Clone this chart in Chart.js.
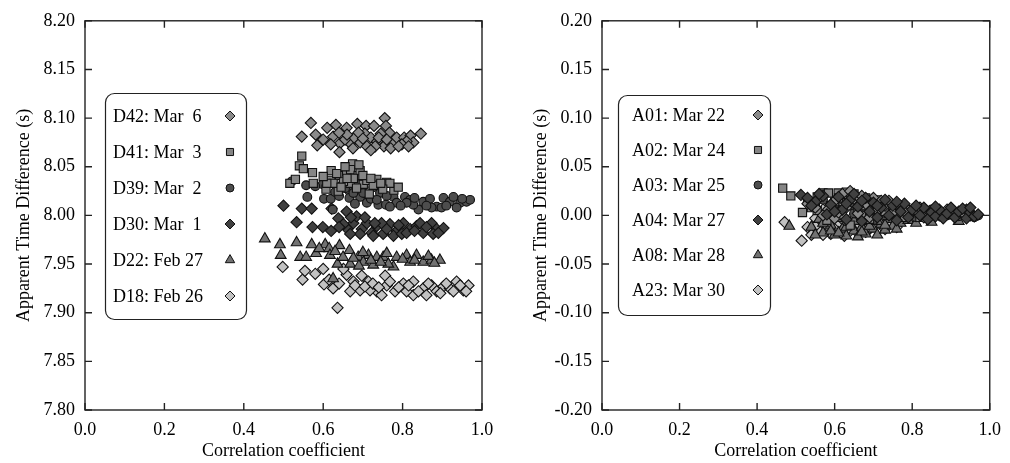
<!DOCTYPE html>
<html>
<head>
<meta charset="utf-8">
<script src="https://cdn.jsdelivr.net/npm/chart.js@4.4.0/dist/chart.umd.min.js"></script>
<style>
html, body { margin: 0; padding: 0; background: #fff; }
#wrap { position: relative; width: 1010px; height: 463px; }
#wrap canvas { position: absolute; top: 0; }
</style>
</head>
<body>
<div id="wrap">
  <canvas id="chart_left" width="520" height="463" style="left:0"></canvas>
  <canvas id="chart_right" width="490" height="463" style="left:520px"></canvas>
</div>
<script>
// left panel: runs D18..D42
var leftLabels = ['D42: Mar  6', 'D41: Mar  3', 'D39: Mar  2', 'D30: Mar  1', 'D22: Feb 27', 'D18: Feb 26'];
var d42 = [[0.569,8.095],[0.546,8.081],[0.581,8.083],[0.585,8.072],[0.610,8.090],[0.632,8.093],[0.659,8.090],[0.686,8.094],
  [0.708,8.092],[0.728,8.092],[0.755,8.100],[0.758,8.092],[0.846,8.084],[0.625,8.081],[0.642,8.074],[0.641,8.065],
  [0.668,8.074],[0.693,8.075],[0.705,8.084],[0.720,8.080],[0.736,8.076],[0.753,8.071],[0.778,8.075],[0.785,8.080],
  [0.804,8.080],[0.820,8.082],[0.827,8.075],[0.810,8.076],[0.767,8.085],[0.745,8.084],[0.619,8.073],[0.678,8.080],
  [0.689,8.085],[0.710,8.071],[0.731,8.071],[0.770,8.069],[0.655,8.078],[0.798,8.073],[0.600,8.078],[0.660,8.083],
  [0.700,8.079],[0.740,8.080],[0.760,8.078],[0.790,8.071],[0.815,8.071],[0.675,8.069],[0.720,8.067],[0.640,8.085]];
var d41 = [[0.546,8.061],[0.540,8.051],[0.550,8.048],[0.573,8.044],[0.516,8.033],[0.575,8.033],[0.620,8.046],[0.641,8.041],
  [0.659,8.045],[0.674,8.053],[0.669,8.047],[0.688,8.041],[0.638,8.025],[0.607,8.027],[0.619,8.036],[0.735,8.037],
  [0.760,8.034],[0.778,8.026],[0.716,8.022],[0.668,8.033],[0.701,8.032],[0.684,8.028],[0.651,8.035],[0.768,8.033],
  [0.789,8.029],[0.750,8.027],[0.625,8.033],[0.609,8.033],[0.710,8.036],[0.693,8.046],[0.676,8.038],[0.726,8.031],
  [0.634,8.043],[0.530,8.037],[0.600,8.040],[0.645,8.029],[0.660,8.038],[0.700,8.041],[0.720,8.038],[0.745,8.033],
  [0.690,8.052],[0.655,8.050]];
var d39 = [[0.521,8.035],[0.557,8.031],[0.560,8.019],[0.599,8.032],[0.602,8.017],[0.619,8.017],[0.624,8.006],[0.647,8.031],
  [0.666,8.025],[0.686,8.034],[0.693,8.019],[0.710,8.013],[0.701,8.023],[0.726,8.029],[0.743,8.023],[0.739,8.011],
  [0.758,8.011],[0.777,8.019],[0.785,8.013],[0.806,8.019],[0.819,8.016],[0.840,8.006],[0.852,8.014],[0.869,8.017],
  [0.886,8.009],[0.903,8.018],[0.919,8.014],[0.928,8.019],[0.945,8.013],[0.961,8.014],[0.970,8.016],[0.936,8.008],
  [0.898,8.008],[0.873,8.008],[0.827,8.011],[0.810,8.013],[0.768,8.009],[0.666,8.018],[0.630,8.024],[0.747,8.029],
  [0.676,8.023],[0.580,8.030],[0.640,8.020],[0.655,8.028],[0.720,8.017],[0.760,8.020],[0.795,8.010],[0.830,8.018],
  [0.860,8.010],[0.910,8.010],[0.950,8.017],[0.680,8.012],[0.735,8.016]];
var d30 = [[0.500,8.010],[0.533,7.993],[0.546,8.007],[0.571,8.007],[0.573,7.988],[0.599,7.988],[0.621,8.007],[0.638,7.997],
  [0.659,8.004],[0.661,7.986],[0.676,7.992],[0.697,7.986],[0.710,7.992],[0.722,7.982],[0.735,7.989],[0.751,7.981],
  [0.768,7.991],[0.785,7.984],[0.802,7.992],[0.819,7.986],[0.835,7.989],[0.852,7.982],[0.873,7.992],[0.886,7.986],
  [0.903,7.987],[0.777,7.979],[0.726,7.979],[0.693,7.981],[0.668,7.981],[0.798,7.981],[0.844,7.992],[0.747,7.992],
  [0.877,7.981],[0.651,7.991],[0.684,7.999],[0.620,7.984],[0.640,7.988],[0.705,7.998],[0.730,7.992],[0.760,7.986],
  [0.790,7.990],[0.810,7.982],[0.830,7.984],[0.860,7.988],[0.890,7.982],[0.670,7.998]];
var d22 = [[0.453,7.976],[0.491,7.970],[0.533,7.972],[0.571,7.970],[0.605,7.970],[0.493,7.959],[0.542,7.957],[0.557,7.957],
  [0.582,7.961],[0.615,7.966],[0.641,7.969],[0.617,7.959],[0.636,7.950],[0.666,7.964],[0.668,7.950],[0.688,7.957],
  [0.714,7.959],[0.735,7.957],[0.751,7.957],[0.785,7.957],[0.810,7.959],[0.835,7.959],[0.852,7.952],[0.873,7.954],
  [0.894,7.954],[0.777,7.947],[0.726,7.949],[0.701,7.952],[0.764,7.950],[0.819,7.952],[0.625,7.935],[0.676,7.956],
  [0.590,7.966],[0.630,7.963],[0.650,7.957],[0.700,7.962],[0.720,7.954],[0.745,7.952],[0.760,7.961],[0.800,7.955],
  [0.830,7.954],[0.865,7.958],[0.880,7.951],[0.690,7.948]];
var d18 = [[0.498,7.947],[0.548,7.934],[0.554,7.943],[0.600,7.945],[0.602,7.929],[0.636,7.905],[0.659,7.939],[0.676,7.932],
  [0.693,7.923],[0.714,7.932],[0.735,7.922],[0.756,7.938],[0.760,7.928],[0.781,7.922],[0.802,7.930],[0.827,7.932],
  [0.827,7.918],[0.852,7.925],[0.873,7.928],[0.886,7.922],[0.903,7.927],[0.919,7.925],[0.936,7.932],[0.953,7.923],
  [0.966,7.928],[0.697,7.938],[0.651,7.945],[0.718,7.923],[0.747,7.918],[0.810,7.922],[0.860,7.918],[0.928,7.922],
  [0.625,7.925],[0.668,7.922],[0.768,7.932],[0.580,7.940],[0.640,7.930],[0.680,7.928],[0.705,7.927],[0.725,7.930],
  [0.740,7.926],[0.790,7.926],[0.815,7.928],[0.840,7.922],[0.865,7.930],[0.895,7.920],[0.910,7.930],[0.945,7.928],
  [0.960,7.922],[0.615,7.934]];

// right panel: runs A01..A23
var rightLabels = ['A01: Mar 22', 'A02: Mar 24', 'A03: Mar 25', 'A04: Mar 27', 'A08: Mar 28', 'A23: Mar 30'];
var a01 = [[0.53,0.012],[0.56,0.018],[0.58,0.005],[0.60,0.015],[0.62,0.022],[0.63,0.008],[0.65,0.017],[0.66,0.002],
  [0.68,0.012],[0.70,0.018],[0.71,0.005],[0.73,0.010],[0.75,0.003],[0.77,0.008],[0.79,0.000],[0.81,0.005],
  [0.83,-0.002],[0.85,0.004],[0.87,0.000],[0.89,0.006],[0.91,-0.002],[0.93,0.003],[0.95,0.000],[0.60,-0.003],
  [0.64,0.025],[0.69,-0.002],[0.74,0.015],[0.57,0.000],[0.55,0.008],[0.61,0.003],[0.67,0.020],[0.72,0.015],
  [0.76,0.012],[0.78,0.004],[0.82,0.008],[0.86,0.006],[0.90,0.002],[0.94,0.006]];
var a02 = [[0.466,0.028],[0.487,0.020],[0.517,0.003],[0.53,0.015],[0.555,0.019],[0.57,0.023],[0.584,0.023],[0.59,0.010],
  [0.609,0.023],[0.621,0.017],[0.62,0.000],[0.63,0.013],[0.65,0.022],[0.66,0.005],[0.669,0.000],[0.68,0.018],
  [0.70,0.008],[0.72,0.012],[0.74,0.002],[0.76,0.006],[0.769,0.001],[0.78,-0.002],[0.80,0.004],[0.82,-0.002],
  [0.84,0.003],[0.58,-0.005],[0.64,-0.010],[0.69,-0.004],[0.61,0.018],[0.555,0.005],[0.54,0.008],[0.60,0.014],
  [0.63,0.024],[0.67,0.010],[0.71,0.016],[0.73,0.004],[0.75,0.010],[0.79,0.006],[0.86,0.000],[0.88,0.003]];
var a03 = [[0.55,0.010],[0.58,0.004],[0.60,0.012],[0.62,0.000],[0.64,0.010],[0.66,0.016],[0.67,0.003],[0.69,0.008],
  [0.71,0.000],[0.72,0.012],[0.74,0.005],[0.76,-0.002],[0.78,0.006],[0.80,0.000],[0.82,0.004],[0.84,-0.003],
  [0.86,0.002],[0.88,-0.002],[0.90,0.003],[0.92,-0.001],[0.94,0.002],[0.96,-0.002],[0.97,0.000],[0.63,-0.006],
  [0.70,-0.005],[0.57,0.016],[0.61,0.006],[0.65,0.002],[0.68,0.014],[0.73,0.000],[0.77,0.010],[0.81,-0.002],
  [0.85,0.006],[0.89,0.000],[0.93,0.004]];
var a04 = [[0.513,0.021],[0.53,0.018],[0.55,0.014],[0.57,0.020],[0.59,0.011],[0.61,0.019],[0.62,0.006],[0.64,0.016],
  [0.65,0.022],[0.66,0.009],[0.68,0.018],[0.69,0.004],[0.70,0.013],[0.72,0.008],[0.73,0.016],[0.74,0.000],
  [0.75,0.010],[0.77,0.004],[0.78,0.012],[0.79,-0.002],[0.80,0.006],[0.82,0.000],[0.83,0.008],[0.84,-0.004],
  [0.85,0.003],[0.86,-0.001],[0.87,0.006],[0.88,-0.003],[0.89,0.002],[0.90,0.008],[0.91,-0.002],[0.92,0.004],
  [0.93,0.007],[0.94,-0.003],[0.95,0.003],[0.96,-0.001],[0.97,0.001],[0.58,0.001],[0.63,-0.004],[0.67,-0.006],
  [0.71,-0.002],[0.76,-0.005],[0.54,0.010],[0.56,0.022],[0.60,0.004],[0.63,0.012],[0.67,0.015],[0.71,0.010],
  [0.76,0.014],[0.81,0.010],[0.86,0.009],[0.95,0.008]];
var a08 = [[0.483,-0.011],[0.54,-0.012],[0.56,-0.004],[0.57,-0.018],[0.59,-0.010],[0.60,-0.020],[0.61,-0.003],[0.62,-0.014],
  [0.63,-0.021],[0.64,-0.008],[0.65,-0.016],[0.66,-0.001],[0.67,-0.012],[0.68,-0.019],[0.69,-0.006],[0.70,-0.014],
  [0.71,-0.020],[0.72,-0.009],[0.73,-0.015],[0.74,-0.004],[0.75,-0.011],[0.77,-0.008],[0.79,-0.005],[0.58,0.002],
  [0.55,-0.020],[0.66,-0.022],[0.85,-0.007],[0.92,-0.006],[0.57,-0.008],[0.59,-0.016],[0.61,-0.018],[0.63,-0.012],
  [0.65,-0.006],[0.67,-0.017],[0.69,-0.011],[0.71,-0.006],[0.73,-0.010],[0.76,-0.014],[0.81,-0.008]];
var a23 = [[0.471,-0.007],[0.515,-0.026],[0.53,-0.012],[0.55,-0.003],[0.56,-0.016],[0.57,0.006],[0.58,-0.010],[0.59,-0.019],
  [0.60,0.002],[0.61,-0.008],[0.62,-0.015],[0.63,0.010],[0.64,-0.004],[0.65,-0.012],[0.66,-0.018],[0.67,0.004],
  [0.68,-0.009],[0.69,-0.014],[0.70,-0.002],[0.72,-0.010],[0.74,-0.006],[0.76,-0.012],[0.54,-0.020],[0.595,0.012],
  [0.625,-0.021],[0.55,-0.011],[0.57,-0.020],[0.58,0.000],[0.60,-0.014],[0.62,-0.004],[0.64,-0.016],[0.66,-0.008],
  [0.68,-0.017],[0.70,-0.011],[0.73,-0.014]];

// marker styles shared by both panels (same order as the labels)
var markerShapes = ['rectRot', 'rect', 'circle', 'rectRot', 'triangle', 'rectRot'];
var markerFills = ['#8a8a8a', '#858585', '#4d4d4d', '#404040', '#727272', '#c2c2c2'];
var markerSizes = [5.6, 5.8, 4.4, 5.6, 6.2, 5.6];
var legendSizes = [5, 5, 4, 5, 5.4, 5];

var serif = "'Liberation Serif', 'Times New Roman', serif";

function pts(arr) {
    return arr.map(function (p) { return {x: p[0], y: p[1]}; });
}

function makeSets(labels, series, topIndex) {
    return labels.map(function (lab, i) {
        return {
            label: lab,
            data: pts(series[i]),
            order: i === topIndex ? -1 : 0,
            pointStyle: markerShapes[i],
            pointRadius: markerSizes[i],
            pointHoverRadius: markerSizes[i],
            backgroundColor: markerFills[i],
            borderColor: '#111',
            borderWidth: 1.1
        };
    });
}

// box, inward ticks on all four sides
var frameTicks = {
    id: 'frameTicks',
    afterDraw: function (chart) {
        var ctx = chart.ctx, a = chart.chartArea;
        var xs = chart.scales.x, ys = chart.scales.y;
        ctx.save();
        ctx.strokeStyle = '#222';
        ctx.lineWidth = 1.4;
        ctx.strokeRect(a.left, a.top, a.right - a.left, a.bottom - a.top);
        ctx.beginPath();
        xs.ticks.forEach(function (t) {
            var p = xs.getPixelForValue(t.value);
            ctx.moveTo(p, a.bottom); ctx.lineTo(p, a.bottom - 7);
            ctx.moveTo(p, a.top); ctx.lineTo(p, a.top + 7);
        });
        ys.ticks.forEach(function (t) {
            var p = ys.getPixelForValue(t.value);
            ctx.moveTo(a.left, p); ctx.lineTo(a.left + 7, p);
            ctx.moveTo(a.right, p); ctx.lineTo(a.right - 7, p);
        });
        ctx.stroke();
        ctx.restore();
    }
};

// rounded legend box inside the plot
var boxLegend = {
    id: 'boxLegend',
    afterDraw: function (chart, args, o) {
        var ctx = chart.ctx;
        ctx.save();
        ctx.beginPath();
        ctx.roundRect(o.x + 0.5, o.y + 0.5, o.w, o.h, 9);
        ctx.fillStyle = '#fff';
        ctx.fill();
        ctx.strokeStyle = '#222';
        ctx.lineWidth = 1.2;
        ctx.stroke();
        ctx.font = '18px ' + serif;
        ctx.textBaseline = 'middle';
        chart.data.datasets.forEach(function (ds, i) {
            var yy = o.rowY + i * o.rowStep;
            ctx.fillStyle = '#000';
            ctx.fillText(ds.label, o.textX, yy + 1);
            ctx.fillStyle = ds.backgroundColor;
            ctx.strokeStyle = '#111';
            ctx.lineWidth = 1;
            Chart.helpers.drawPoint(ctx, {pointStyle: ds.pointStyle, radius: legendSizes[i], rotation: 0, borderWidth: 1}, o.markX, yy);
        });
        ctx.restore();
    }
};

function makeChart(id, sets, yMin, yMax, yAxisW, padRight, titlePad, legendOpts) {
    return new Chart(document.getElementById(id), {
        type: 'scatter',
        data: {datasets: sets},
        options: {
            animation: false,
            responsive: false,
            layout: {padding: {left: 0, top: 15, right: padRight, bottom: 0}},
            plugins: {
                legend: {display: false},
                tooltip: {enabled: false},
                boxLegend: legendOpts
            },
            scales: {
                x: {
                    type: 'linear',
                    min: 0, max: 1,
                    afterFit: function (s) { s.height = 53; },
                    grid: {display: false, drawTicks: false},
                    border: {display: false},
                    ticks: {
                        stepSize: 0.2, padding: 9, color: '#000',
                        font: {family: serif, size: 18},
                        maxRotation: 0,
                        callback: function (v) { return v.toFixed(1); }
                    },
                    title: {display: true, text: 'Correlation coefficient', color: '#000',
                        font: {family: serif, size: 18}, padding: {top: 0, bottom: 1}}
                },
                y: {
                    type: 'linear',
                    min: yMin, max: yMax,
                    afterFit: function (s) { s.width = yAxisW; },
                    grid: {display: false, drawTicks: false},
                    border: {display: false},
                    ticks: {
                        stepSize: 0.05, padding: 10, color: '#000',
                        font: {family: serif, size: 18},
                        callback: function (v) { return v.toFixed(2); }
                    },
                    title: {display: true, text: 'Apparent Time Difference (s)', color: '#000',
                        font: {family: serif, size: 18}, padding: {top: titlePad, bottom: 0}}
                }
            }
        },
        plugins: [frameTicks, boxLegend]
    });
}

var chart_left = makeChart('chart_left', makeSets(leftLabels, [d42, d41, d39, d30, d22, d18], -1),
    7.80, 8.20, 85, 38, 13,
    {x: 105, y: 93, w: 141, h: 226, textX: 113, markX: 230, rowY: 116, rowStep: 36});

var chart_right = makeChart('chart_right', makeSets(rightLabels, [a01, a02, a03, a04, a08, a23], 3),
    -0.20, 0.20, 82, 12, 10,
    {x: 98, y: 95, w: 152, h: 220, textX: 112, markX: 238, rowY: 115, rowStep: 35});
</script>
</body>
</html>
